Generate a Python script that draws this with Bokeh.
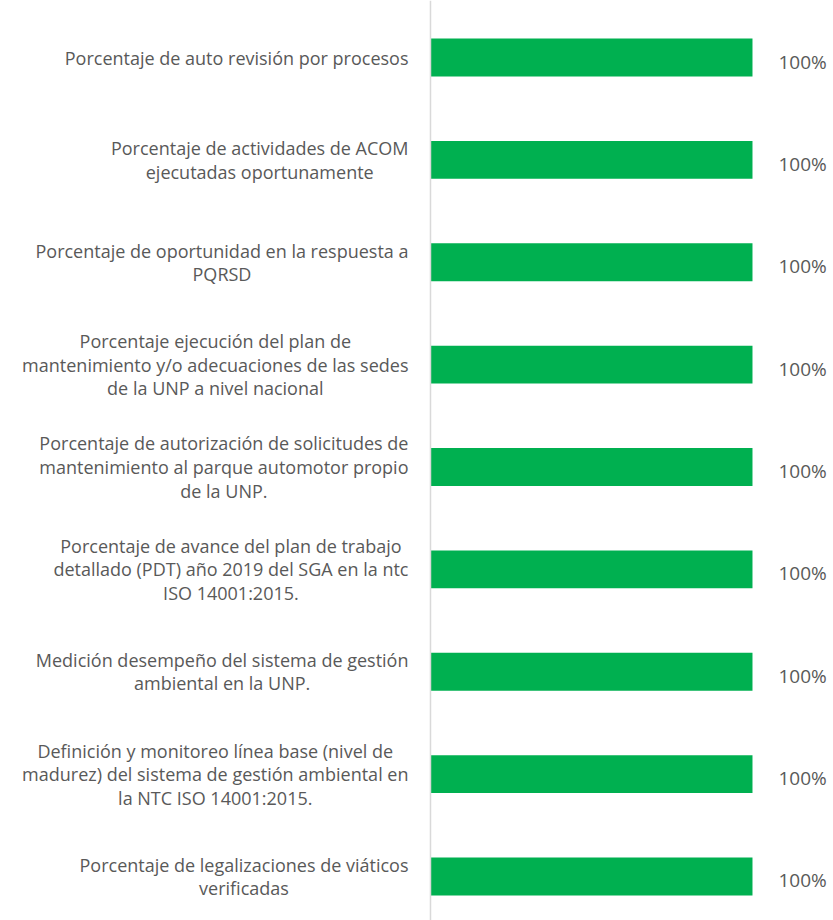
from bokeh.plotting import figure
from bokeh.models import ColumnDataSource, Range1d, Span
from bokeh.core.properties import value
from bokeh.embed import file_html
from bokeh.resources import INLINE

categories = [
    "Porcentaje de auto revisión por procesos",
    "Porcentaje de actividades de ACOM\nejecutadas oportunamente",
    "Porcentaje de oportunidad en la respuesta a\nPQRSD",
    "Porcentaje ejecución del plan de\nmantenimiento y/o adecuaciones de las sedes\nde la UNP a nivel nacional",
    "Porcentaje de autorización de solicitudes de\nmantenimiento al parque automotor propio\nde la UNP.",
    "Porcentaje de avance del plan de trabajo\ndetallado (PDT) año 2019 del SGA en la ntc\nISO 14001:2015.",
    "Medición desempeño del sistema de gestión\nambiental en la UNP.",
    "Definición y monitoreo línea base (nivel de\nmadurez) del sistema de gestión ambiental en\nla NTC ISO 14001:2015.",
    "Porcentaje de legalizaciones de viáticos\nverificadas",
]
values = [100, 100, 100, 100, 100, 100, 100, 100, 100]
value_labels = ["100%"] * len(values)

pos = list(range(len(categories)))
src = ColumnDataSource(dict(y=pos, v=values, cat=categories, lab=value_labels,
                            zero=[0] * len(values)))

FONT = "Open Sans"
TEXT_COLOR = "#595959"

p = figure(width=833, height=920, output_backend="svg", toolbar_location=None,
           x_range=Range1d(-133.54, 125.16), y_range=Range1d(8.43, -0.557),
           min_border=0, outline_line_color=None)
p.xaxis.visible = False
p.yaxis.visible = False
p.xgrid.visible = False
p.ygrid.visible = False
p.background_fill_color = "white"
p.border_fill_color = "white"

p.hbar(y="y", left=0, right="v", height=0.37, source=src,
       fill_color="#00B050", line_color=None)

p.add_layout(Span(location=0, dimension="height", line_color="#D9D9D9", line_width=1.5))

p.text(x="zero", y="y", text="cat", source=src, x_offset=-22,
       text_align="center", anchor="center_right", text_baseline="middle",
       text_font=value(FONT), text_font_size="18px", text_color=TEXT_COLOR,
       text_line_height=0.98)

p.text(x="v", y="y", text="lab", source=src, x_offset=26, y_offset=4,
       text_align="left", text_baseline="middle",
       text_font=value(FONT), text_font_size="19px", text_color=TEXT_COLOR)

open("out.html", "w").write(file_html(p, INLINE))
